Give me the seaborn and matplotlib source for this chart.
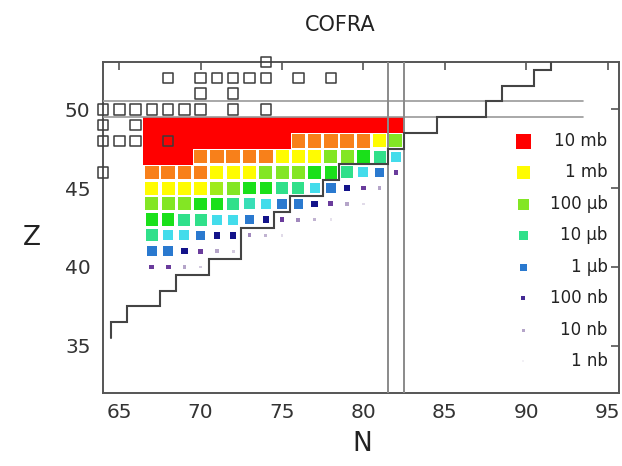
import numpy as np
import pandas as pd
import matplotlib
matplotlib.use("Agg")
import matplotlib.pyplot as plt
import seaborn as sns
from matplotlib.colors import LinearSegmentedColormap, Normalize

# ---------------- data ----------------
title = "COFRA"
x_label = "N"
y_label = "Z"
x_ticks = [65, 70, 75, 80, 85, 90, 95]
y_ticks = [35, 40, 45, 50]

# cross sections, log10(sigma / mb), one row per Z starting at N = 67
row_Z = [49, 48, 47, 46, 45, 44, 43, 42, 41, 40]
row_N0 = [67, 67, 67, 67, 67, 67, 67, 67, 67, 67]
row_logsig = [
    [1, 1, 1, 1, 1, 1, 1, 1, 1, 1, 1, 1, 1, 1, 1, 1],
    [1, 1, 1, 1, 1, 1, 1, 1, 1, 0.5, 0.5, 0.5, 0.5, 0.5, 0.0, -1.0],
    [1, 1, 1, 0.5, 0.5, 0.5, 0.5, 0.5, 0.0, 0.0, 0.0, -1.0, -1.0, -1.5, -2.0, -2.5],
    [0.5, 0.5, 0.5, 0.5, 0.0, 0.0, 0.0, -1.0, -1.0, -1.0, -1.5, -1.5, -2.0, -2.5, -3.0, -4.3],
    [0.0, 0.0, 0.0, 0.0, -0.8, -1.0, -1.5, -1.5, -2.0, -2.0, -2.5, -3.0, -3.6, -4.3, -5.0],
    [-1.0, -1.0, -1.0, -1.5, -1.5, -2.0, -2.2, -2.5, -3.0, -3.0, -3.6, -4.3, -5.0, -5.7],
    [-1.5, -1.5, -2.0, -2.0, -2.5, -2.5, -3.0, -3.6, -4.3, -4.8, -5.2, -5.8],
    [-2.0, -2.5, -2.5, -3.0, -3.6, -3.6, -4.8, -5.2, -5.7],
    [-3.0, -3.0, -3.6, -4.3, -5.0, -5.5],
    [-4.3, -4.3, -5.0, -5.5],
]

# stable nuclei (hollow squares)
stable_Z = [53, 52, 52, 52, 52, 52, 52, 52, 52, 51, 51,
            50, 50, 50, 50, 50, 50, 50, 50, 50, 49, 49, 48, 48, 48, 48, 46]
stable_N = [74, 68, 70, 71, 72, 73, 74, 76, 78, 70, 72,
            64, 65, 66, 67, 68, 69, 70, 72, 74, 64, 66, 64, 65, 66, 68, 64]

# staircase boundary: for each Z, last N inside the line
line_Z = [36, 37, 38, 39, 40, 41, 42, 43, 44, 45, 46, 47, 48, 49, 50, 51, 52, 53]
line_Nmax = [64, 65, 67, 68, 70, 72, 72, 74, 75, 77, 78, 81, 82, 84, 87, 88, 90, 91]

# magic numbers
magic_Z = [50]
magic_N = [82]

# legend
legend_labels = ["10 mb", "1 mb", "100 μb", "10 μb", "1 μb", "100 nb", "10 nb", "1 nb"]
legend_logsig = [1, 0, -1, -2, -3, -4, -5, -6]
legend_side_px = [15, 13, 11, 9, 7, 4.5, 3, 2]

# ---------------- styling ----------------
sns.set_theme(style="white")
plt.rcParams["font.family"] = ["DejaVu Sans"]

cmap_nodes = [(-6.0, "#f2f0f5"), (-5.0, "#b4a4c8"), (-4.3, "#6a3c9c"), (-3.6, "#12128a"),
              (-3.0, "#2a7ad0"), (-2.5, "#44dcee"), (-2.0, "#30e08c"), (-1.5, "#1ae01a"),
              (-1.0, "#84e624"), (0.0, "#ffff00"), (0.5, "#f8821a"), (1.0, "#ff0000")]
vmin, vmax = -6.0, 1.0
cmap = LinearSegmentedColormap.from_list(
    "xs", [((v - vmin) / (vmax - vmin), c) for v, c in cmap_nodes])
norm = Normalize(vmin, vmax)


def side_px(v):
    v = np.asarray(v, dtype=float)
    s = np.interp(v, [-6, -5, -4.3, -3.6, -3, -2.5, -2, -1, 0, 0.5, 0.99],
                  [2, 3.5, 4.8, 6.5, 9.5, 10, 12, 13, 13, 13.5, 13.5])
    return np.where(v >= 1, 16.9, s)


recs = []
for z, n0, vals in zip(row_Z, row_N0, row_logsig):
    for i, v in enumerate(vals):
        recs.append({"N": n0 + i, "Z": z, "logsig": v})
df = pd.DataFrame(recs)
df["msize"] = (side_px(df["logsig"]) * 0.72) ** 2

W, H = 622, 466
fig = plt.figure(figsize=(W / 100, H / 100), dpi=100)
L, R, B, T = 103, 619, 393, 62
ax = fig.add_axes([L / W, 1 - B / H, (R - L) / W, (B - T) / H])
ax.set_xlim(64, 95.7)
ax.set_ylim(32, 53)

spine_c = "#555555"
for sp in ax.spines.values():
    sp.set_color(spine_c)
    sp.set_linewidth(1.4)

# magic lines
for mz in magic_Z:
    for off in (-0.5, 0.5):
        ax.plot([64, 93.5], [mz + off, mz + off], color="#9a9a9a", lw=1.2, zorder=3)
for mn in magic_N:
    for off in (-0.5, 0.5):
        ax.axvline(mn + off, color="#8a8a8a", lw=1.4, zorder=3)

# cells
smin, smax = df["msize"].min(), df["msize"].max()
sns.scatterplot(data=df, x="N", y="Z", hue="logsig", palette=cmap, hue_norm=norm,
                size="msize", sizes=(smin, smax), size_norm=(smin, smax),
                marker="s", linewidth=0, legend=False, ax=ax, zorder=2)

# staircase
sx, sy = [line_Nmax[0] + 0.5], [line_Z[0] - 0.5]
for i, (z, nm) in enumerate(zip(line_Z, line_Nmax)):
    sx.append(nm + 0.5); sy.append(z + 0.5)
    if i + 1 < len(line_Z):
        sx.append(line_Nmax[i + 1] + 0.5); sy.append(z + 0.5)
ax.plot(sx, sy, color="#444444", lw=1.5, zorder=4, solid_joinstyle="miter")

# stable nuclei
ax.scatter(stable_N, stable_Z, marker="s", s=(10.5 * 0.72) ** 2, facecolors="none",
           edgecolors="#3c3c3c", linewidths=1.1, clip_on=False, zorder=5)

# legend (manual, right aligned labels)
for i, (lab, v, sp) in enumerate(zip(legend_labels, legend_logsig, legend_side_px)):
    yy = 48 - 2 * i
    ax.scatter([89.8], [yy], marker="s", s=(sp * 0.72) ** 2, color=cmap(norm(v)),
               linewidths=0, zorder=5)
    ax.text(95.0, yy, lab, ha="right", va="center", fontsize=12, color="#222222", zorder=6)

ax.set_xticks(x_ticks)
ax.set_yticks(y_ticks)
ax.tick_params(direction="in", length=6, width=1.2, color=spine_c, top=True, right=True,
               labelsize=14.5, labelcolor="#333333")
ax.tick_params(axis="x", pad=7)
ax.tick_params(axis="y", pad=9)
ax.set_xlabel("")
ax.set_ylabel("")

fig.text(340 / W, 1 - 25 / H, title, ha="center", va="center", fontsize=15, color="#222222")
fig.text(362 / W, 1 - 444 / H, x_label, ha="center", va="center", fontsize=19, color="#222222")
fig.text(32 / W, 1 - 238 / H, y_label, ha="center", va="center", fontsize=19, color="#222222")

fig.savefig("out.png", dpi=100)
